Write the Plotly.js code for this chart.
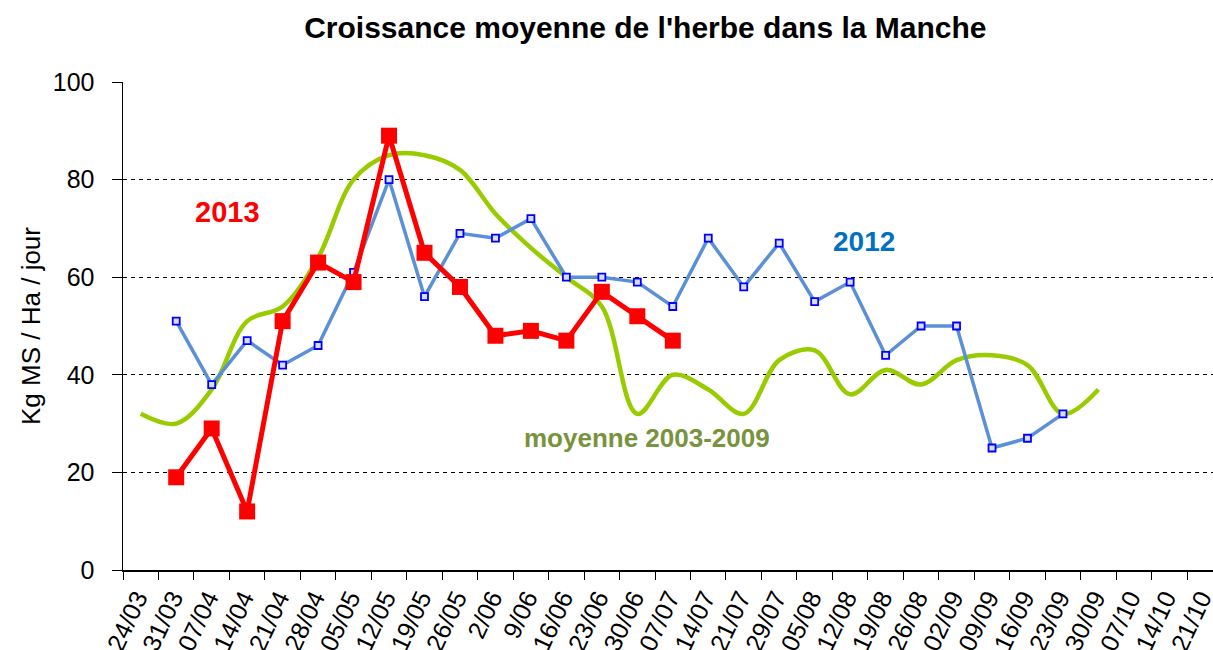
<!DOCTYPE html>
<html>
<head>
<meta charset="utf-8">
<script src="https://cdn.plot.ly/plotly-3.0.1.min.js"></script>
<style>html,body{margin:0;padding:0;background:#fff;}#chart{width:1213px;height:650px;}</style>
</head>
<body>
<div id="chart"></div>
<script>
// Tick labels (week boundaries)
var weekLabels = ["24/03","31/03","07/04","14/04","21/04","28/04","05/05","12/05","19/05","26/05",
  "2/06","9/06","16/06","23/06","30/06","07/07","14/07","21/07","29/07","05/08","12/08",
  "19/08","26/08","02/09","09/09","16/09","23/09","30/09","07/10","14/10","21/10"];

// Moyenne 2003-2009 (starts in week 0)
var moyenne = [32,30,37,51,54,64,80,85,85,82,73,66,60,54,32,40,37,32,43,45,36,41,38,43,44,42,32,37];
var moyenneStart = 0;

// 2012 (starts in week 1)
var y2012 = [51,38,47,42,46,61,80,56,69,68,72,60,60,59,54,68,58,67,55,59,44,50,50,25,27,32];
var start2012 = 1;

// 2013 (starts in week 1)
var y2013 = [19,29,12,51,63,59,89,65,58,48,49,47,57,52,47];
var start2013 = 1;

// points sit in the middle of each week interval
function weekX(arr, start){ return arr.map(function(_, i){ return start + i + 0.5; }); }
var tickIdx = weekLabels.map(function(_, i){ return i; });

var FONT = "Liberation Sans, Arial, sans-serif";

var traces = [
  {
    x: weekX(moyenne, moyenneStart), y: moyenne, name: "moyenne 2003-2009",
    type: "scatter", mode: "lines",
    line: {color: "#99cc00", width: 4.5, shape: "spline", smoothing: 1}
  },
  {
    x: weekX(y2012, start2012), y: y2012, name: "2012",
    type: "scatter", mode: "lines+markers",
    line: {color: "#5b8fd6", width: 3.5},
    marker: {symbol: "square", size: 7, color: "#d8dcff", line: {color: "#0000ff", width: 1.8}}
  },
  {
    x: weekX(y2013, start2013), y: y2013, name: "2013",
    type: "scatter", mode: "lines+markers",
    line: {color: "#ff0000", width: 5},
    marker: {symbol: "square", size: 16, color: "#ff0000"}
  }
];

var layout = {
  width: 1213, height: 650,
  margin: {l: 123, r: 0, t: 82, b: 80},
  paper_bgcolor: "#ffffff", plot_bgcolor: "#ffffff",
  showlegend: false,
  font: {family: FONT, color: "#000000", size: 24},
  title: {
    text: "Croissance moyenne de l'herbe dans la Manche",
    font: {family: FONT, size: 30, weight: "bold", color: "#000000"},
    x: 0.532, xanchor: "center", y: 0.958, yanchor: "middle"
  },
  xaxis: {
    range: [0, 30.73], tickmode: "array", tickvals: tickIdx, ticktext: weekLabels,
    tickangle: -65, ticks: "outside", ticklen: 8, tickcolor: "#000", tickwidth: 1,
    ticklabelshift: 14, ticklabelstandoff: -6, ticklabeloverflow: "allow",
    showline: true, linecolor: "#000", linewidth: 1.5,
    showgrid: false, zeroline: false,
    tickfont: {family: FONT, size: 25, color: "#000"}
  },
  yaxis: {
    range: [0, 100], tickvals: [0,20,40,60,80,100],
    ticks: "outside", ticklen: 10, tickcolor: "#000", tickwidth: 1,
    ticklabelstandoff: 12,
    showline: true, linecolor: "#000", linewidth: 1.5,
    showgrid: true, gridcolor: "#000", gridwidth: 1, griddash: "4px,4px",
    zeroline: false,
    tickfont: {family: FONT, size: 25, color: "#000"},
    title: {text: "Kg MS / Ha / jour", font: {family: FONT, size: 26, color: "#000"}, standoff: 4}
  },
  annotations: [
    {x: 2.94, y: 73.3, xref: "x", yref: "y", text: "2013", showarrow: false,
     font: {family: FONT, size: 29, weight: "bold", color: "#ff0000"}},
    {x: 20.9, y: 67.3, xref: "x", yref: "y", text: "2012", showarrow: false,
     font: {family: FONT, size: 28, weight: "bold", color: "#0070c0"}},
    {x: 14.76, y: 27.0, xref: "x", yref: "y", text: "moyenne 2003-2009", showarrow: false,
     font: {family: FONT, size: 26, weight: "bold", color: "#77933c"}}
  ]
};

Plotly.newPlot("chart", traces, layout, {displayModeBar: false, staticPlot: true});
</script>
</body>
</html>
